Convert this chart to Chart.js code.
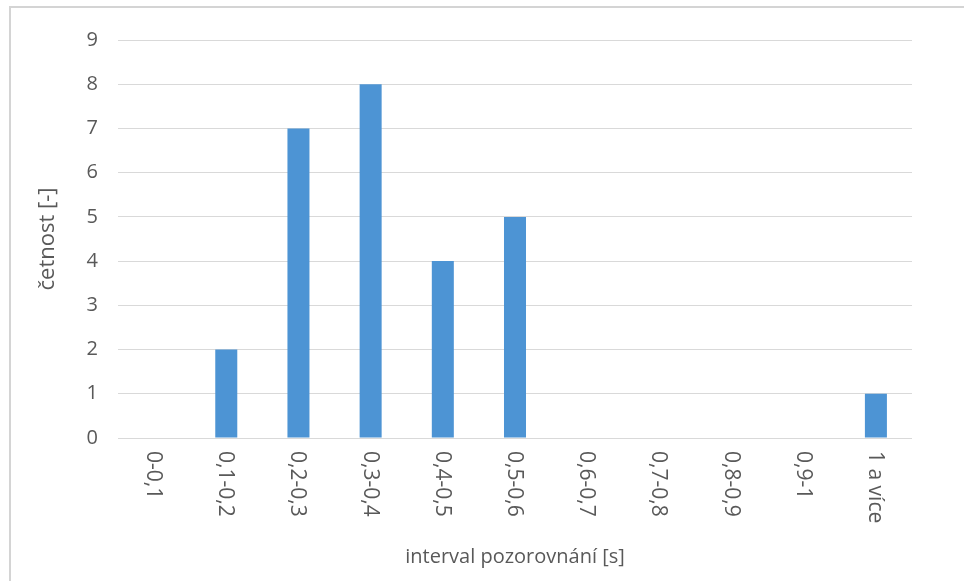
<!DOCTYPE html>
<html>
<head>
<meta charset="utf-8">
<script src="https://cdn.jsdelivr.net/npm/chart.js@4/dist/chart.umd.min.js"></script>
<style>
  html, body { margin: 0; padding: 0; background: #ffffff; }
  #wrap { position: relative; width: 964px; height: 581px; }
</style>
</head>
<body>
<div id="wrap"><canvas id="c" width="964" height="581"></canvas></div>
<script>
// Histogram: observation intervals (s) and their frequency
const categories = ['0-0,1', '0,1-0,2', '0,2-0,3', '0,3-0,4', '0,4-0,5', '0,5-0,6', '0,6-0,7', '0,7-0,8', '0,8-0,9', '0,9-1', '1 a více'];
const counts = [0, 2, 7, 8, 4, 5, 0, 0, 0, 0, 1];
const yTicks = [0, 1, 2, 3, 4, 5, 6, 7, 8, 9];
const xTitle = 'interval pozorovnání [s]';
const yTitle = 'četnost [-]';

const FONT = '"Open Sans", "DejaVu Sans", sans-serif';
const TEXT = '#595959';
const GRID = '#d9d9d9';

// Draws the frame, clockwise-rotated category labels and the axis titles
const decorations = {
  id: 'decorations',
  beforeDraw(chart) {
    const ctx = chart.ctx;
    ctx.save();
    ctx.strokeStyle = '#d4d4d4';
    ctx.lineWidth = 2;
    ctx.beginPath();
    ctx.moveTo(10, 600);
    ctx.lineTo(10, 7);
    ctx.lineTo(1000, 7);
    ctx.stroke();
    ctx.restore();
  },
  afterDraw(chart) {
    const ctx = chart.ctx;
    const xs = chart.scales.x;
    const area = chart.chartArea;
    ctx.save();
    ctx.fillStyle = TEXT;
    ctx.font = '21px ' + FONT;
    ctx.textAlign = 'left';
    ctx.textBaseline = 'middle';
    categories.forEach((label, i) => {
      const x = xs.getPixelForTick(i);
      ctx.save();
      ctx.translate(x - 1, area.bottom + 13);
      ctx.rotate(Math.PI / 2);
      ctx.fillText(label, 0, 0);
      ctx.restore();
    });
    ctx.textAlign = 'center';
    ctx.font = '20px ' + FONT;
    ctx.fillText(xTitle, (area.left + area.right) / 2, 557);
    ctx.font = '22px ' + FONT;
    ctx.save();
    ctx.translate(48, (area.top + area.bottom) / 2);
    ctx.rotate(-Math.PI / 2);
    ctx.fillText(yTitle, 0, 0);
    ctx.restore();
    ctx.restore();
  }
};

new Chart(document.getElementById('c'), {
  type: 'bar',
  data: {
    labels: categories,
    datasets: [{
      data: counts,
      backgroundColor: '#4d94d4',
      borderWidth: 0,
      barPercentage: 0.305,
      categoryPercentage: 1
    }]
  },
  options: {
    responsive: false,
    animation: false,
    devicePixelRatio: 1,
    layout: { padding: { top: 40, right: 52, bottom: 0, left: 0 } },
    plugins: { legend: { display: false }, tooltip: { enabled: false } },
    scales: {
      x: {
        grid: { display: false },
        border: { display: false },
        ticks: { display: false },
        afterFit(scale) { scale.height = 143; }
      },
      y: {
        min: 0,
        max: 9,
        afterBuildTicks(scale) { scale.ticks = yTicks.map(v => ({ value: v })); },
        grid: { color: GRID, lineWidth: 1, drawTicks: false },
        border: { display: false },
        ticks: {
          color: TEXT,
          font: { family: FONT, size: 20 },
          padding: 20
        },
        afterFit(scale) { scale.width = 118; }
      }
    }
  },
  plugins: [decorations]
});
</script>
</body>
</html>
